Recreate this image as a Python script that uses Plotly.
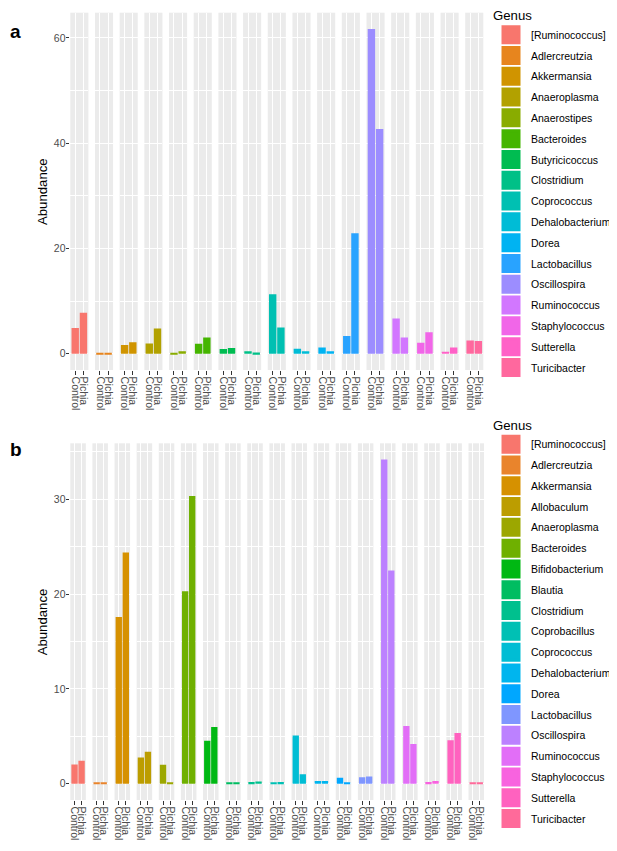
import math
import plotly.graph_objects as go

# ---------------- data ----------------
genus_a = ["[Ruminococcus]", "Adlercreutzia", "Akkermansia", "Anaeroplasma", "Anaerostipes",
           "Bacteroides", "Butyricicoccus", "Clostridium", "Coprococcus", "Dehalobacterium",
           "Dorea", "Lactobacillus", "Oscillospira", "Ruminococcus", "Staphylococcus",
           "Sutterella", "Turicibacter"]
control_a = [4.9, 0.2, 1.65, 1.95, 0.2, 1.9, 0.9, 0.5, 11.3, 0.95, 1.2, 3.35, 61.7, 6.7, 2.1, 0.4, 2.5]
pichia_a = [7.8, 0.2, 2.2, 4.8, 0.5, 3.1, 1.1, 0.25, 5.0, 0.5, 0.5, 22.9, 42.7, 3.1, 4.1, 1.2, 2.4]

genus_b = ["[Ruminococcus]", "Adlercreutzia", "Akkermansia", "Allobaculum", "Anaeroplasma",
           "Bacteroides", "Bifidobacterium", "Blautia", "Clostridium", "Coprobacillus",
           "Coprococcus", "Dehalobacterium", "Dorea", "Lactobacillus", "Oscillospira",
           "Ruminococcus", "Staphylococcus", "Sutterella", "Turicibacter"]
control_b = [2.04, 0.1, 17.6, 2.78, 2.0, 20.3, 4.54, 0.15, 0.2, 0.1, 5.1, 0.3, 0.63, 0.7, 34.2, 6.1, 0.2, 4.6, 0.1]
pichia_b = [2.43, 0.1, 24.4, 3.38, 0.1, 30.35, 6.0, 0.15, 0.25, 0.2, 1.0, 0.3, 0.1, 0.77, 22.5, 4.2, 0.3, 5.35, 0.1]

groups = ["Control", "Pichia"]
y_title = "Abundance"
legend_title = "Genus"
panel_labels = ["a", "b"]


# ---------------- ggplot default hue palette ----------------
def hcl_hex(h, c=100.0, l=65.0):
    WY = 100.0
    Wu, Wv = 0.1978398, 0.4683363
    hr = math.radians(h)
    U, V = c * math.cos(hr), c * math.sin(hr)
    Y = WY * (((l + 16) / 116) ** 3 if l > 7.999592 else l / 903.3)
    u = U / (13 * l) + Wu
    v = V / (13 * l) + Wv
    X = 9.0 * Y * u / (4 * v)
    Z = -X / 3 - 5 * Y + 3 * Y / v

    def g(t):
        return 1.055 * t ** (1 / 2.4) - 0.055 if t > 0.00304 else 12.92 * t

    r = g((3.240479 * X - 1.537150 * Y - 0.498535 * Z) / WY)
    gg = g((-0.969256 * X + 1.875992 * Y + 0.041556 * Z) / WY)
    b = g((0.055648 * X - 0.204043 * Y + 1.057311 * Z) / WY)
    cl = [min(1, max(0, t)) for t in (r, gg, b)]
    return "#%02X%02X%02X" % tuple(int(round(255 * t)) for t in cl)


def hue_pal(n):
    step = 360.0 / n
    return [hcl_hex(15 + i * step) for i in range(n)]


# ---------------- layout (page pixels; page body has an 8px margin) ----------------
PAGE_W, PAGE_H = 617, 851
OFF = 8
W, H = PAGE_W - OFF, PAGE_H - OFF


def px(x):
    return (x - OFF) / W


def py(y):
    return 1 - (y - OFF) / H


FONT = "Liberation Sans, Arial, sans-serif"
TICK_COL = "#4D4D4D"

panels = [
    dict(genus=genus_a, control=control_a, pichia=pichia_a, top=12.7, bottom=370.0,
         left=70.3, right=483.3, major=20, minor=10, legend="legend",
         label_y=31.5, legend_top=3.0),
    dict(genus=genus_b, control=control_b, pichia=pichia_b, top=443.3, bottom=800.0,
         left=70.3, right=484.0, major=10, minor=5, legend="legend2",
         label_y=449.5, legend_top=412.5),
]

fig = go.Figure()
layout = {}
annotations = []
legends = {}
k = 0
for pi, p in enumerate(panels):
    n = len(p["genus"])
    cols = hue_pal(n)
    gap = 6.6
    w = (p["right"] - p["left"] - (n - 1) * gap) / n
    ymax = max(max(p["control"]), max(p["pichia"]))
    yr = [-0.05 * ymax, 1.05 * ymax]
    ydom = [py(p["bottom"]), py(p["top"])]
    for i, g in enumerate(p["genus"]):
        k += 1
        xn = "x" if k == 1 else f"x{k}"
        yn = "y" if k == 1 else f"y{k}"
        xk = "xaxis" if k == 1 else f"xaxis{k}"
        yk = "yaxis" if k == 1 else f"yaxis{k}"
        x0 = p["left"] + i * (w + gap)
        fig.add_trace(go.Bar(
            x=groups, y=[p["control"][i], p["pichia"][i]],
            marker=dict(color=cols[i], line=dict(width=0)),
            name=g, showlegend=False, xaxis=xn, yaxis=yn,
        ))
        fig.add_trace(go.Scatter(
            x=[None], y=[None], mode="markers",
            marker=dict(symbol="square", size=16, color=cols[i],
                        line=dict(color=cols[i], width=3)),
            name=g, legend=p["legend"], legendgroup=f"{p['legend']}_{i}",
            showlegend=True, xaxis=xn, yaxis=yn,
        ))
        layout[xk] = dict(
            domain=[px(x0), px(x0 + w)], anchor=yn, type="category",
            categoryorder="array", categoryarray=groups, range=[-0.6, 1.6],
            tickmode="array", tickvals=groups, ticktext=groups, automargin=False,
            showgrid=True, gridcolor="white", gridwidth=1.1, zeroline=False,
            showline=False, ticks="outside", ticklen=3.5, tickwidth=1,
            tickcolor="#333333", tickangle=90,
            tickfont=dict(family=FONT, size=10.5, color=TICK_COL), fixedrange=True,
        )
        first = i == 0
        layout[yk] = dict(
            domain=ydom, anchor=xn, range=yr, dtick=p["major"], tick0=0, automargin=False,
            showgrid=True, gridcolor="white", gridwidth=1.2, zeroline=False,
            showline=False, showticklabels=first, ticks="outside" if first else "",
            ticklen=3.7, tickwidth=1, tickcolor="#333333", ticklabelstandoff=-2,
            tickfont=dict(family=FONT, size=10.5, color=TICK_COL),
            minor=dict(dtick=p["minor"], tick0=0, showgrid=True, gridcolor="white",
                       gridwidth=0.6, ticks=""),
            fixedrange=True,
        )
    # axis title + panel label
    annotations.append(dict(
        text=y_title, x=px(42.7), y=py((p["top"] + p["bottom"]) / 2),
        xref="paper", yref="paper", showarrow=False, textangle=-90,
        xanchor="center", yanchor="middle",
        font=dict(family=FONT, size=13.2, color="black"),
    ))
    annotations.append(dict(
        text=f"<b>{panel_labels[pi]}</b>", x=px(8.0), y=py(p["label_y"]),
        xref="paper", yref="paper", showarrow=False, xanchor="left", yanchor="middle",
        font=dict(family=FONT, size=19, color="black"),
    ))
    legends[p["legend"]] = dict(
        x=px(491), y=py(p["legend_top"]),
        xanchor="left", yanchor="top", bgcolor="rgba(0,0,0,0)", borderwidth=0,
        font=dict(family=FONT, size=10.5, color="black"),
        title=dict(text=legend_title, font=dict(family=FONT, size=13.2, color="black")),
        traceorder="grouped", tracegroupgap=1.8, itemclick=False, itemdoubleclick=False,
    )

fig.update_layout(
    width=W, height=H,
    margin=dict(l=0, r=0, t=0, b=0, autoexpand=False),
    paper_bgcolor="white", plot_bgcolor="#EBEBEB",
    bargap=0.1, showlegend=True,
    annotations=annotations,
    **legends,
    **layout,
)

fig.write_html("out.html")
